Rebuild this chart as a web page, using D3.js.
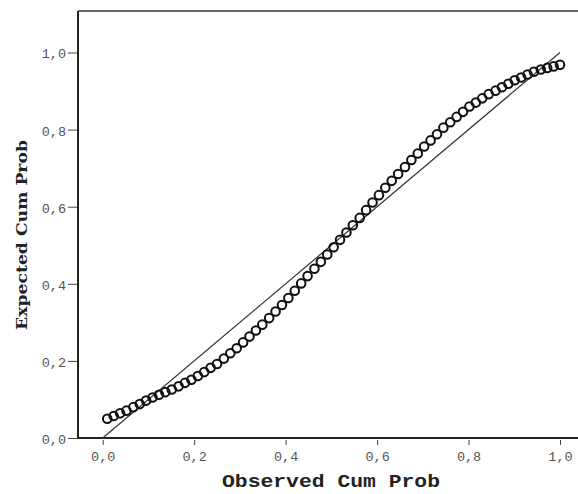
<!DOCTYPE html>
<html>
<head>
<meta charset="utf-8">
<script src="https://cdn.jsdelivr.net/npm/d3@7/dist/d3.min.js"></script>
<style>
  html, body { margin: 0; padding: 0; background: #fff; }
  svg { display: block; }
</style>
</head>
<body>
<svg id="chart" width="578" height="494"></svg>
<script>
// ---- data ----
const observedCumProb = [0.010, 0.024, 0.038, 0.052, 0.067, 0.081, 0.095, 0.109, 0.123, 0.137,
  0.151, 0.166, 0.180, 0.194, 0.208, 0.222, 0.236, 0.250, 0.265, 0.279,
  0.293, 0.307, 0.321, 0.335, 0.349, 0.364, 0.378, 0.392, 0.406, 0.420,
  0.434, 0.448, 0.463, 0.477, 0.491, 0.505, 0.519, 0.533, 0.547, 0.562,
  0.576, 0.590, 0.604, 0.618, 0.632, 0.646, 0.661, 0.675, 0.689, 0.703,
  0.717, 0.731, 0.745, 0.760, 0.774, 0.788, 0.802, 0.816, 0.830, 0.844,
  0.859, 0.873, 0.887, 0.901, 0.915, 0.929, 0.943, 0.958, 0.972, 0.986, 1.000];
const expectedCumProb = [0.050, 0.057, 0.064, 0.071, 0.080, 0.088, 0.097, 0.105, 0.112, 0.119,
  0.126, 0.134, 0.143, 0.151, 0.161, 0.171, 0.182, 0.192, 0.206, 0.220,
  0.233, 0.248, 0.263, 0.279, 0.294, 0.311, 0.328, 0.345, 0.363, 0.382,
  0.401, 0.420, 0.439, 0.457, 0.476, 0.495, 0.514, 0.533, 0.552, 0.571,
  0.591, 0.611, 0.630, 0.649, 0.667, 0.685, 0.703, 0.721, 0.738, 0.756,
  0.772, 0.788, 0.805, 0.819, 0.833, 0.846, 0.860, 0.870, 0.881, 0.892,
  0.901, 0.910, 0.919, 0.928, 0.935, 0.943, 0.950, 0.956, 0.960, 0.964, 0.968];
const refLine = [[0, 0], [1, 1]];
const xTicks = [0, 0.2, 0.4, 0.6, 0.8, 1.0];
const yTicks = [0, 0.2, 0.4, 0.6, 0.8, 1.0];
const xTickLabels = ["0,0", "0,2", "0,4", "0,6", "0,8", "1,0"];
const yTickLabels = ["0,0", "0,2", "0,4", "0,6", "0,8", "1,0"];
const xTitle = "Observed Cum Prob";
const yTitle = "Expected Cum Prob";

// ---- layout ----
const svg = d3.select("#chart");
const frame = { left: 78, right: 578, top: 11, bottom: 438 };
const x = d3.scaleLinear().domain([0, 1]).range([102.7, 560]);
const y = d3.scaleLinear().domain([0, 1]).range([438, 52.5]);

// frame top line
svg.append("line").attr("x1", frame.left).attr("x2", frame.right)
  .attr("y1", frame.top).attr("y2", frame.top)
  .attr("stroke", "#333").attr("stroke-width", 1.5);

// x axis
const xAxis = d3.axisBottom(x).tickValues(xTicks)
  .tickFormat((d, i) => xTickLabels[i]).tickSize(6).tickPadding(7);
const gx = svg.append("g").attr("transform", `translate(0,${frame.bottom})`).call(xAxis);
gx.select(".domain").remove();
gx.selectAll(".tick line").attr("stroke", "#444").attr("stroke-width", 1).attr("y1", 2).attr("y2", 7);
gx.selectAll(".tick text").attr("font-family", "'Liberation Mono', monospace")
  .attr("font-size", 13.5).attr("fill", "#555");

// y axis
const yAxis = d3.axisLeft(y).tickValues(yTicks)
  .tickFormat((d, i) => yTickLabels[i]).tickSize(10).tickPadding(2);
const gy = svg.append("g").attr("transform", `translate(${frame.left},0)`).call(yAxis);
gy.select(".domain").remove();
gy.selectAll(".tick line").attr("stroke", "#444").attr("stroke-width", 1);
gy.selectAll(".tick text").attr("font-family", "'Liberation Mono', monospace")
  .attr("font-size", 13.5).attr("fill", "#555").attr("dy", "0.4em");

// axis lines
svg.append("line").attr("x1", frame.left).attr("x2", frame.left)
  .attr("y1", frame.top).attr("y2", frame.bottom + 1)
  .attr("stroke", "#222").attr("stroke-width", 2);
svg.append("line").attr("x1", frame.left).attr("x2", frame.right)
  .attr("y1", frame.bottom).attr("y2", frame.bottom)
  .attr("stroke", "#222").attr("stroke-width", 2);

// reference line
svg.append("path")
  .datum(refLine)
  .attr("d", d3.line().x(d => x(d[0])).y(d => y(d[1])))
  .attr("fill", "none").attr("stroke", "#333").attr("stroke-width", 1.2);

// points
svg.append("g").selectAll("circle")
  .data(observedCumProb.map((v, i) => [v, expectedCumProb[i]]))
  .join("circle")
  .attr("cx", d => x(d[0]))
  .attr("cy", d => y(d[1]))
  .attr("r", 4.3)
  .attr("fill", "none")
  .attr("stroke", "#111")
  .attr("stroke-width", 2);

// titles
svg.append("text")
  .attr("x", 331).attr("y", 487)
  .attr("text-anchor", "middle")
  .attr("font-family", "'Liberation Mono', monospace")
  .attr("font-weight", "bold").attr("font-size", 19)
  .attr("textLength", 218).attr("lengthAdjust", "spacingAndGlyphs")
  .attr("fill", "#222")
  .text(xTitle);

svg.append("text")
  .attr("transform", "translate(27,235) rotate(-90)")
  .attr("text-anchor", "middle")
  .attr("font-family", "'DejaVu Serif', serif")
  .attr("font-weight", "bold").attr("font-size", 14)
  .attr("textLength", 190).attr("lengthAdjust", "spacingAndGlyphs")
  .attr("fill", "#222")
  .text(yTitle);
</script>
</body>
</html>
